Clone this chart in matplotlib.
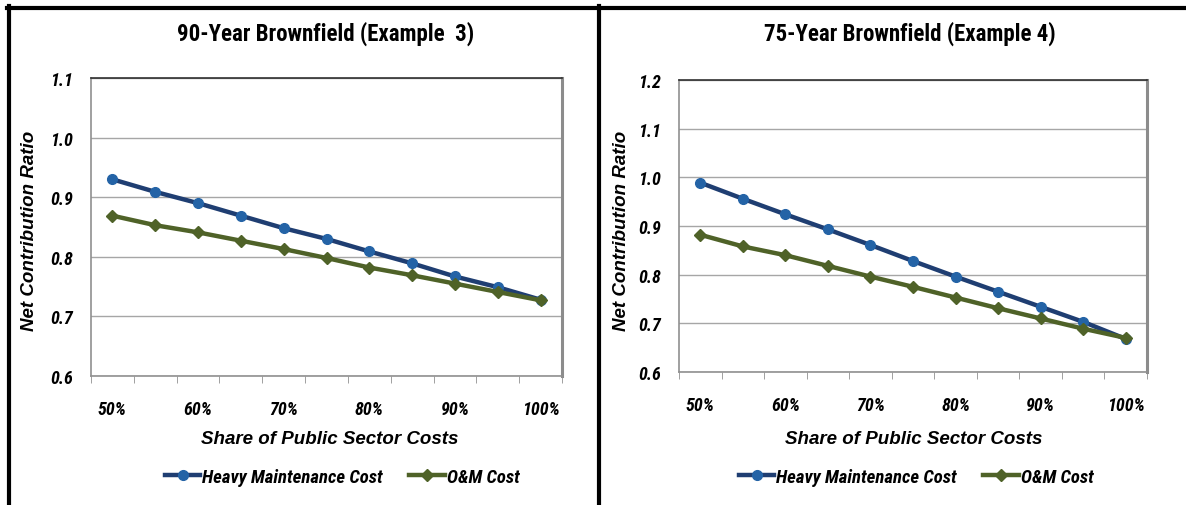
import matplotlib
matplotlib.use('Agg')
import matplotlib.pyplot as plt
from matplotlib.lines import Line2D
from matplotlib.font_manager import FontProperties
import numpy as np

# share of public sector costs (x categories), every other one gets a label
categories = ['50%', '55%', '60%', '65%', '70%', '75%', '80%', '85%', '90%', '95%', '100%']

# 90-year brownfield (example 3)
heavy_90 = [0.930, 0.909, 0.890, 0.869, 0.848, 0.830, 0.809, 0.789, 0.767, 0.749, 0.728]
om_90 = [0.869, 0.853, 0.841, 0.827, 0.813, 0.798, 0.782, 0.769, 0.755, 0.741, 0.727]

# 75-year brownfield (example 4)
heavy_75 = [0.989, 0.956, 0.924, 0.893, 0.861, 0.828, 0.796, 0.765, 0.734, 0.703, 0.668]
om_75 = [0.882, 0.858, 0.840, 0.818, 0.796, 0.775, 0.753, 0.731, 0.710, 0.689, 0.670]

series_names = ['Heavy Maintenance Cost', 'O&M Cost']

W, H = 1186, 506
HEAVY_LINE = '#1f3e72'
HEAVY_MARK = '#2463a6'
OM_COLOR = '#4f6228'
GRID = '#a6a6a6'

narrow = FontProperties(family='Roboto Condensed', weight='bold', style='italic', size=13.5)
narrow_tick = FontProperties(family='Roboto Condensed', weight='bold', style='italic', size=13)
title_font = FontProperties(family='Roboto Condensed', weight='bold', size=16.5)
label_font = FontProperties(family='Liberation Sans', weight='bold', style='italic', size=13.5)


def px(x, y):
    # pixel coords (top-left origin) -> figure fraction
    return x / W, 1 - y / H


def draw_panel(ax, heavy, om, ymax):
    x = np.arange(len(categories))
    ax.plot(x, heavy, color=HEAVY_LINE, lw=3.2, marker='o', ms=7,
            mfc=HEAVY_MARK, mec=HEAVY_MARK, zorder=3, label=series_names[0])
    ax.plot(x, om, color=OM_COLOR, lw=3.2, marker='D', ms=6.5,
            mfc=OM_COLOR, mec=OM_COLOR, zorder=4, label=series_names[1])

    ax.set_xlim(-0.5, len(categories) - 0.5)
    ax.set_ylim(0.6, ymax)
    yt = np.round(np.arange(0.6, ymax + 0.001, 0.1), 1)
    ax.set_yticks(yt)
    ax.set_yticklabels(['%.1f' % v for v in yt], fontproperties=narrow_tick)
    ax.yaxis.grid(True, color=GRID, lw=1)
    ax.set_axisbelow(True)

    ax.set_xticks(x[::2])
    ax.set_xticklabels(categories[::2], fontproperties=narrow_tick)
    ax.set_xticks(np.arange(-0.5, len(categories), 1), minor=True)
    ax.tick_params(axis='x', which='major', length=0, pad=17)
    ax.tick_params(axis='x', which='minor', length=5, color='#909090', direction='out')
    ax.tick_params(axis='y', length=0, pad=13)

    for side in ['left', 'bottom']:
        ax.spines[side].set_color('#909090')
        ax.spines[side].set_linewidth(1.2)
    ax.spines['top'].set_color('#303030')
    ax.spines['top'].set_linewidth(1.2)
    ax.spines['right'].set_color('#8c8c8c')
    ax.spines['right'].set_linewidth(2.2)


fig = plt.figure(figsize=(W / 100, H / 100), dpi=100)

ax1 = fig.add_axes([91 / W, 1 - 377 / H, (562 - 91) / W, (377 - 79) / H])
draw_panel(ax1, heavy_90, om_90, 1.1)
ax2 = fig.add_axes([679 / W, 1 - 373 / H, (1147 - 679) / W, (373 - 81) / H])
draw_panel(ax2, heavy_75, om_75, 1.2)

# titles, axis labels, legends placed like the original slide
panels = [
    (ax1, '90-Year Brownfield (Example  3)', 326, 30, 342),
    (ax2, '75-Year Brownfield (Example 4)', 910, 621, 916),
]
for ax, title, cx, ylab_x, leg_x in panels:
    fig.text(*px(cx, 34), title, fontproperties=title_font, ha='center', va='center')
    fig.text(*px(cx + 4, 440), 'Share of Public Sector Costs', fontproperties=label_font,
             ha='center', va='center')
    fig.text(*px(ylab_x, 231), 'Net Contribution Ratio', fontproperties=label_font,
             ha='center', va='center', rotation=90)
    handles, labels = ax.get_legend_handles_labels()
    fig.legend(handles, labels, loc='center', bbox_to_anchor=px(leg_x, 478), ncol=2,
               frameon=False, prop=narrow, handlelength=1.9, handletextpad=0.1,
               columnspacing=1.4, numpoints=1)

# black slide frame
lw = 3
fig.add_artist(Line2D([7 / W, 1], [1 - 9 / H, 1 - 9 / H], color='black', lw=lw,
                      transform=fig.transFigure))
fig.add_artist(Line2D([9 / W, 9 / W], [0, 1 - 7 / H], color='black', lw=lw,
                      transform=fig.transFigure))
fig.add_artist(Line2D([598.5 / W, 598.5 / W], [0, 1 - 7 / H], color='black', lw=lw,
                      transform=fig.transFigure))

fig.savefig('out.png', dpi=100)
